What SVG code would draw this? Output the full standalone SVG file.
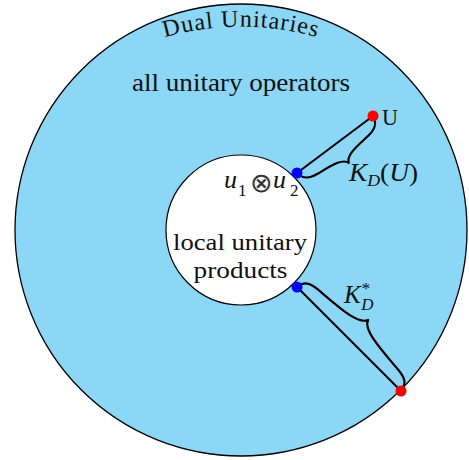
<svg xmlns="http://www.w3.org/2000/svg" width="469" height="460" viewBox="0 0 469 460">
<style>
.t{font-family:"Liberation Serif","Times New Roman",serif;fill:#111;}
.m{font-family:"Liberation Serif","Times New Roman",serif;font-style:italic;fill:#111;}
.br{fill:none;stroke:#000;stroke-width:2.2;stroke-linejoin:round;stroke-linecap:round;}
.ln{fill:none;stroke:#000;stroke-width:2;}
</style>
<defs>
<path id="arc" d="M 150,41.9 A 280 280 0 0 1 332,41.9"/>
</defs>
<g id="outer">
<circle cx="241" cy="230" r="226" fill="#8dd7f6" stroke="#000" stroke-width="1.3"/>
<text class="t" font-size="24" letter-spacing="1"><textPath href="#arc" startOffset="50%" text-anchor="middle">Dual Unitaries</textPath></text>
<text class="t" x="241" y="91" font-size="25" text-anchor="middle" textLength="218" lengthAdjust="spacingAndGlyphs">all unitary operators</text>
</g>
<g id="inner">
<circle cx="241" cy="230" r="75" fill="#fff" stroke="#000" stroke-width="1.2"/>
<text class="t" x="240" y="250" font-size="23" text-anchor="middle" textLength="134" lengthAdjust="spacingAndGlyphs">local unitary</text>
<text class="t" x="240.5" y="278" font-size="23" text-anchor="middle" textLength="94" lengthAdjust="spacingAndGlyphs">products</text>
<text class="m" x="224" y="188" font-size="26">u</text>
<text class="t" x="238" y="196" font-size="17">1</text>
<text x="261.5" y="192" font-size="27" font-family="DejaVu Sans, sans-serif" font-weight="300" fill="#333" text-anchor="middle">⊗</text>
<text class="m" x="273" y="188" font-size="26">u</text>
<text class="t" x="290" y="196" font-size="17">2</text>
</g>
<g id="connectors">
<line class="ln" x1="297" y1="173" x2="373" y2="116"/>
<path class="br" transform="translate(297,173) rotate(-36.87)" d="M0,0 C1,9 7,12 16,13 C30,14.5 45,15 47.5,23 C50,15 65,14.5 79,13 C88,12 94,9 95,0"/>
<line class="ln" x1="297" y1="287" x2="401" y2="391"/>
<path class="br" transform="translate(297,287) rotate(45) scale(1,-1)" d="M0,0 C1,9 6,12 16,13 C40,15 70,16 73.5,27 C77,16 107,15 131,13 C141,12 146,9 147,0"/>
</g>
<g id="u1u2-point">
<circle cx="297" cy="173" r="5.5" fill="#0000ff"/>
</g>
<g id="prod-point">
<circle cx="297" cy="287" r="5.5" fill="#0000ff"/>
</g>
<g id="U-point">
<circle cx="373" cy="116" r="5.5" fill="#ff0000"/>
<text class="t" x="382" y="125" font-size="23" textLength="16" lengthAdjust="spacingAndGlyphs">U</text>
</g>
<g id="boundary-point">
<circle cx="401" cy="391" r="5.5" fill="#ff0000"/>
</g>
<g id="labels">
<text x="349" y="181" font-size="26" textLength="69" lengthAdjust="spacingAndGlyphs"><tspan class="m">K</tspan><tspan class="m" font-size="17" dy="5">D</tspan><tspan class="t" dy="-5">(</tspan><tspan class="m">U</tspan><tspan class="t">)</tspan></text>
<text x="344" y="303" font-size="25"><tspan class="m">K</tspan><tspan class="t" font-size="17" dx="1" dy="-9">*</tspan><tspan class="m" font-size="17" dx="-9" dy="16">D</tspan></text>
</g>
</svg>
